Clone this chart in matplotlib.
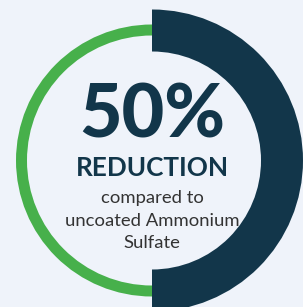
import matplotlib
matplotlib.use('Agg')
import matplotlib.pyplot as plt
from matplotlib.patches import Wedge

# chart data
reduction_pct = 50
segments = [reduction_pct, 100 - reduction_pct]   # dark part, green remainder
headline = f'{reduction_pct}%'
subtitle = 'REDUCTION'
caption = ['compared to', 'uncoated Ammonium', 'Sulfate']

BG = '#eff3fa'
DARK = '#12364a'
GREEN = '#47b04b'
GREY = '#333333'

plt.rcParams['font.family'] = ['Lato', 'DejaVu Sans']

fig = plt.figure(figsize=(3.03, 3.07), dpi=100, facecolor=BG)
ax = fig.add_axes([0, 0, 1, 1])
ax.set_facecolor(BG)
ax.set_xlim(0, 303)
ax.set_ylim(0, 307)
ax.set_aspect('equal')
ax.axis('off')

cx, cy = 152, 146.5
total = sum(segments)
dark_span = 360 * segments[0] / total
# dark arc clockwise from 12 o'clock, thick
ax.add_patch(Wedge((cx, cy), 151, 90 - dark_span, 90, width=42, facecolor=DARK, edgecolor='none'))
# green ring for the rest, thin
ax.add_patch(Wedge((cx, cy), 136, 90, 90 + 360 * segments[1] / total, width=11,
                   facecolor=GREEN, edgecolor='none'))

ax.text(cx, 307 - 116, headline, ha='center', va='center', fontsize=53,
        fontweight='black', color=DARK)
ax.text(cx, 307 - 167.5, subtitle, ha='center', va='center', fontsize=18.8,
        fontweight='bold', color=DARK)
for i, line in enumerate(caption):
    ax.text(cx, 307 - (197.5 + 23 * i), line, ha='center', va='center', fontsize=13.3,
            color=GREY)

fig.savefig('out.png', dpi=100, facecolor=BG)
